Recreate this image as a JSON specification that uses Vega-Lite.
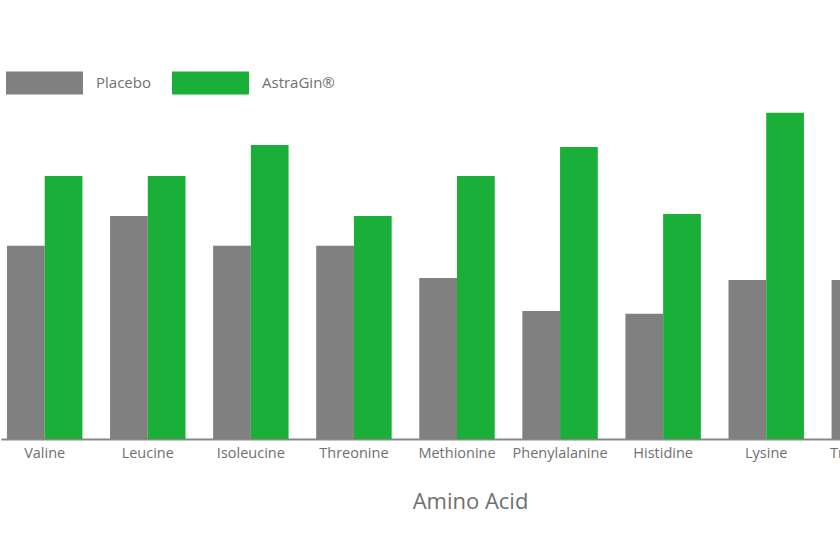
{
  "$schema": "https://vega.github.io/schema/vega-lite/v6.json",
  "width": 840,
  "height": 439,
  "autosize": {"type": "none"},
  "padding": {"left": 0, "top": 0, "right": 0, "bottom": 121},
  "background": "white",
  "config": {
    "view": {"stroke": null},
    "font": "Open Sans"
  },
  "data": {
    "values": [
      {"acid": "Valine", "group": "Placebo", "value": 5.94},
      {"acid": "Valine", "group": "AstraGin®", "value": 8.09},
      {"acid": "Leucine", "group": "Placebo", "value": 6.86},
      {"acid": "Leucine", "group": "AstraGin®", "value": 8.09},
      {"acid": "Isoleucine", "group": "Placebo", "value": 5.94},
      {"acid": "Isoleucine", "group": "AstraGin®", "value": 9.04},
      {"acid": "Threonine", "group": "Placebo", "value": 5.94},
      {"acid": "Threonine", "group": "AstraGin®", "value": 6.86},
      {"acid": "Methionine", "group": "Placebo", "value": 4.95},
      {"acid": "Methionine", "group": "AstraGin®", "value": 8.09},
      {"acid": "Phenylalanine", "group": "Placebo", "value": 3.94},
      {"acid": "Phenylalanine", "group": "AstraGin®", "value": 8.98},
      {"acid": "Histidine", "group": "Placebo", "value": 3.85},
      {"acid": "Histidine", "group": "AstraGin®", "value": 6.92},
      {"acid": "Lysine", "group": "Placebo", "value": 4.89},
      {"acid": "Lysine", "group": "AstraGin®", "value": 10.03},
      {"acid": "Tryptophan", "group": "Placebo", "value": 4.89},
      {"acid": "Tryptophan", "group": "AstraGin®", "value": 8.0}
    ]
  },
  "mark": {"type": "bar", "clip": true},
  "encoding": {
    "x": {
      "field": "acid",
      "type": "nominal",
      "sort": null,
      "scale": {"range": [1, 913], "paddingInner": 0.268, "paddingOuter": 0.058},
      "axis": {
        "title": "Amino Acid",
        "titleFontSize": 22,
        "titleFontWeight": "normal",
        "titleColor": "#707070",
        "titlePadding": 32,
        "titleX": 470,
        "labelAngle": 0,
        "labelFontSize": 14.5,
        "labelColor": "#707070",
        "labelPadding": 7,
        "ticks": false,
        "domainColor": "#888888",
        "domainWidth": 2,
        "labelOverlap": false
      }
    },
    "xOffset": {"field": "group", "type": "nominal", "sort": ["Placebo", "AstraGin®"]},
    "y": {
      "field": "value",
      "type": "quantitative",
      "scale": {"domain": [0, 13.5], "nice": false},
      "axis": null
    },
    "color": {
      "field": "group",
      "type": "nominal",
      "sort": ["Placebo", "AstraGin®"],
      "scale": {"domain": ["Placebo", "AstraGin®"], "range": ["#808080", "#1aaf38"]},
      "legend": {
        "title": null,
        "orient": "none",
        "direction": "horizontal",
        "legendX": 6,
        "legendY": 44,
        "symbolType": "M-1,-0.3H1V0.3H-1Z",
        "symbolSize": 5929,
        "symbolStrokeWidth": 0,
        "symbolOpacity": 1,
        "labelFontSize": 15,
        "labelColor": "#707070",
        "labelOffset": 13,
        "columnPadding": 21
      }
    }
  }
}
